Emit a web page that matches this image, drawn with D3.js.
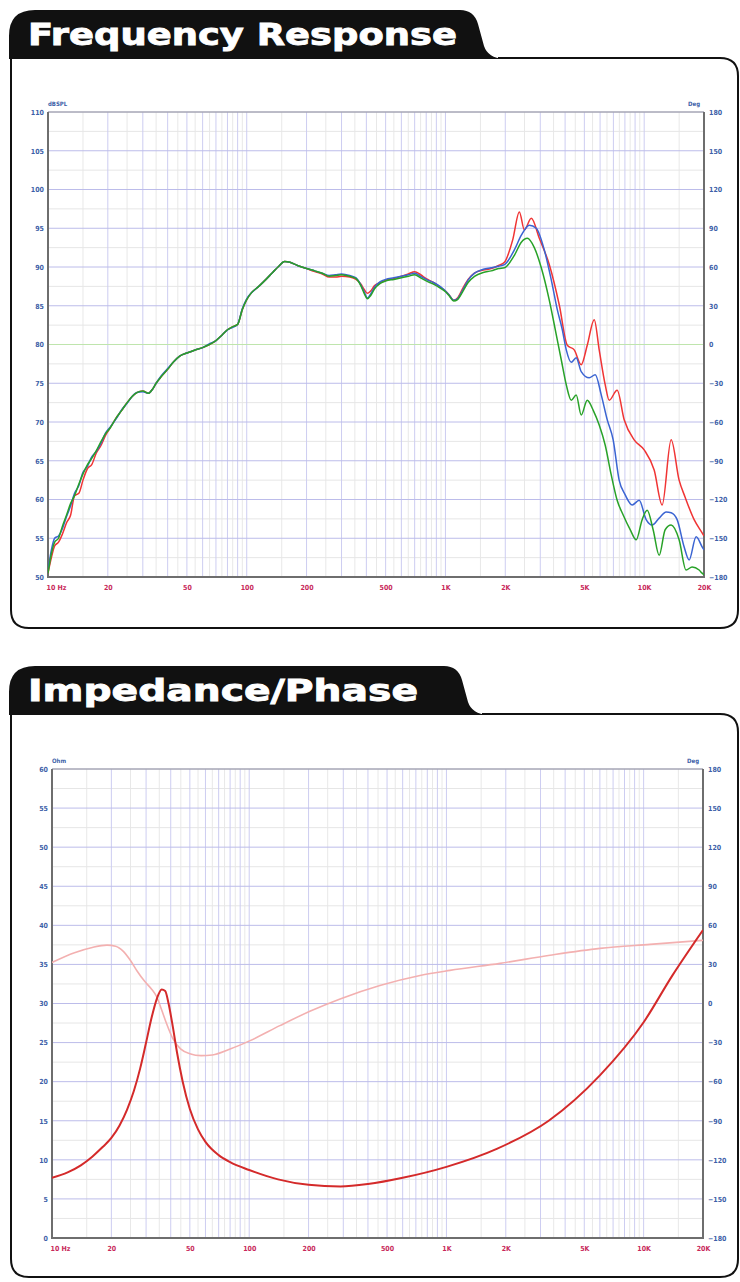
<!DOCTYPE html>
<html><head><meta charset="utf-8">
<script src="https://cdn.jsdelivr.net/npm/d3@7"></script>
<style>
html,body{margin:0;padding:0;background:#fff;}
svg{display:block;}
.ax text{font-family:"DejaVu Sans Condensed","DejaVu Sans",sans-serif;font-size:7px;font-weight:bold;}
</style></head><body>
<svg id="c" width="740" height="1282"></svg>
<script>
// ---------- DATA ----------
const freqTicks = [10,20,50,100,200,500,1000,2000,5000,10000,20000];
const freqLabels = ["10 Hz","20","50","100","200","500","1K","2K","5K","10K","20K"];
const gridMajor = [10,20,30,40,50,60,70,80,90,100,200,300,400,500,600,700,800,900,1000,2000,3000,4000,5000,6000,7000,8000,9000,10000,20000];
const gridMinor = [15,25,35,45,55,65,75,85,95,150,250,350,450,550,650,750,850,950,1500,2500,3500,4500,5500,6500,7500,8500,9500,15000];
const splTicks = [50,55,60,65,70,75,80,85,90,95,100,105,110];
const splMinor = [52.5,57.5,62.5,67.5,72.5,77.5,82.5,87.5,92.5,97.5,102.5,107.5];
const degTicks = [-180,-150,-120,-90,-60,-30,0,30,60,90,120,150,180];
const ohmTicks = [0,5,10,15,20,25,30,35,40,45,50,55,60];
const ohmMinor = [2.5,7.5,12.5,17.5,22.5,27.5,32.5,37.5,42.5,47.5,52.5,57.5];

const splGreen = [[10,50.5],[10.4,53],[10.8,54.5],[11.3,55],[11.8,56.5],[12.4,58],[13,59.5],[13.6,60.5],[14.3,62],[15,63.3],[15.8,64.5],[16.6,65.3],[17.5,66.3],[18.5,67.5],[19.5,68.5],[20.5,69.2],[22,70.5],[23.5,71.5],[25,72.5],[26.5,73.3],[28,73.8],[30,74],[32,73.7],[33.5,74.2],[35,75],[37,75.8],[40,76.8],[43,77.8],[46,78.5],[50,78.9],[55,79.3],[60,79.6],[65,80],[70,80.5],[75,81.2],[80,81.9],[85,82.3],[90,82.6],[95,84.5],[100,85.8],[105,86.6],[115,87.5],[125,88.4],[135,89.3],[145,90.1],[155,90.7],[165,90.6],[180,90.2],[200,89.8],[220,89.5],[240,89.2],[260,88.8],[280,88.9],[300,89],[330,88.8],[355,88.5],[375,87.6],[390,86.6],[405,85.9],[420,86.3],[440,87.2],[470,87.9],[500,88.2],[550,88.4],[600,88.6],[650,88.8],[700,89],[750,88.6],[800,88.2],[870,87.8],[950,87.2],[1000,86.8],[1050,86.2],[1100,85.6],[1150,85.8],[1220,86.8],[1300,88],[1400,88.8],[1550,89.3],[1700,89.5],[1850,89.8],[1980,89.9],[2222,91.5],[2409,93.2],[2582,93.7],[2800,92.5],[3036,89.9],[3332,85.7],[3571,81.9],[3828,78.0],[4055,74.8],[4296,72.8],[4550,73.5],[4821,70.9],[5170,72.8],[5541,71.5],[5939,69.6],[6368,67.0],[6823,63.2],[7311,59.9],[7841,58.0],[8504,56.1],[9116,54.8],[9770,57.4],[10352,58.6],[11095,56.1],[11897,52.8],[12753,56.1],[13670,56.7],[14990,54.8],[16250,50.9],[17420,51.3],[18900,50.9],[19565,50.5],[20000,50.3]];

const splBlue = [[10,50.8],[10.4,53.5],[10.8,55],[11.3,55.3],[11.8,56.2],[12.4,57.8],[13,59.2],[13.6,60.8],[14.3,61.8],[15,63.5],[15.8,64.3],[16.6,65.5],[17.5,66.2],[18.5,67.3],[19.5,68.6],[20.5,69.3],[22,70.4],[23.5,71.6],[25,72.4],[26.5,73.3],[28,73.8],[30,73.9],[32,73.7],[33.5,74.2],[35,75],[37,75.9],[40,76.9],[43,77.8],[46,78.5],[50,78.9],[55,79.3],[60,79.6],[65,80.1],[70,80.5],[75,81.2],[80,81.9],[85,82.2],[90,82.6],[95,84.6],[100,85.9],[105,86.6],[115,87.5],[125,88.4],[135,89.3],[145,90.1],[155,90.7],[165,90.6],[180,90.2],[200,89.8],[220,89.5],[240,89.2],[260,88.9],[280,89],[300,89.1],[330,88.9],[355,88.6],[375,87.7],[390,86.8],[405,86],[420,86.5],[440,87.4],[470,88.1],[500,88.4],[550,88.6],[600,88.8],[650,89],[700,89.2],[750,88.8],[800,88.4],[870,88],[950,87.4],[1000,86.9],[1050,86.3],[1100,85.7],[1150,85.9],[1220,87],[1300,88.3],[1400,89.2],[1550,89.7],[1700,89.9],[1850,90.1],[1980,90.3],[2222,92.2],[2409,94.1],[2642,95.4],[2865,95.0],[3144,92.2],[3410,88.3],[3654,84.5],[3873,81.9],[4055,79.3],[4296,77.7],[4550,78.3],[4821,76.5],[5291,75.7],[5672,76.1],[6081,73.5],[6516,70.3],[6982,67.7],[7482,62.5],[8026,60.6],[8703,59.3],[9438,59.9],[10233,57.4],[10970,56.7],[11897,57.6],[12900,58.4],[13670,58.3],[14650,57.4],[15880,53.9],[16830,52.2],[18255,55.2],[19565,53.9],[20000,53.5]];

const splRed = [[10,50.5],[10.4,52.5],[10.8,54],[11.3,54.5],[11.8,55.5],[12.4,57],[13,58],[13.6,60.5],[14.3,60.8],[15,62.5],[15.8,64],[16.6,64.5],[17.5,66],[18.5,67],[19.5,68.3],[20.5,69.2],[22,70.5],[23.5,71.5],[25,72.5],[26.5,73.3],[28,73.8],[30,74],[32,73.7],[33.5,74.2],[35,75],[37,75.8],[40,76.8],[43,77.8],[46,78.5],[50,78.9],[55,79.3],[60,79.6],[65,80],[70,80.5],[75,81.2],[80,81.9],[85,82.3],[90,82.6],[95,84.5],[100,85.8],[105,86.6],[115,87.5],[125,88.4],[135,89.3],[145,90.1],[155,90.7],[165,90.6],[180,90.2],[200,89.8],[220,89.4],[240,89.1],[260,88.7],[280,88.7],[300,88.8],[330,88.7],[355,88.4],[375,87.8],[390,87.1],[405,86.6],[420,86.9],[440,87.6],[470,88],[500,88.3],[550,88.5],[600,88.8],[650,89.1],[700,89.4],[750,89],[800,88.5],[870,88],[950,87.3],[1000,86.9],[1050,86.3],[1100,85.7],[1150,86],[1220,87.2],[1300,88.4],[1400,89.2],[1550,89.6],[1700,89.8],[1850,90.2],[1980,90.6],[2180,93.5],[2354,97.1],[2495,94.8],[2704,96.3],[2967,93.7],[3332,90.3],[3740,85.1],[4103,79.9],[4447,79.3],[4821,77.4],[5170,79.9],[5606,83.2],[5939,79.3],[6368,74.8],[6668,72.8],[7311,74.1],[7932,70.3],[8906,67.7],[10000,66.4],[11228,63.8],[12316,59.3],[13670,67.7],[14990,62.5],[16070,60.3],[17840,57.4],[19565,55.7],[20000,55.3]];

const impedance = [[10,7.7],[12,8.4],[14,9.3],[16,10.4],[18,11.6],[20,12.8],[22,14.4],[24,16.4],[26,18.8],[28,21.7],[30,25],[32,28.2],[34,30.6],[36,31.8],[37.5,31.6],[39,30],[41,27],[43,23.8],[46,20],[50,16.5],[55,13.9],[60,12.3],[70,10.6],[80,9.7],[100,8.7],[140,7.5],[200,6.8],[290,6.6],[400,6.9],[600,7.7],[1000,9.1],[1800,11.4],[3300,15],[6000,20.8],[10000,27.6],[14000,33.6],[20000,39.4]];

const phase = [[10,31.5],[13,39],[16,43],[19,44.8],[21,44],[23,40],[25,33],[27,25],[29.5,17],[32,11],[34,5],[36,-5],[38,-15],[41,-27],[45,-35],[50,-38.5],[57,-40],[65,-39.5],[80,-35],[101,-28.5],[143,-17],[203,-6],[289,3.5],[460,13.8],[735,21.5],[1042,25.4],[1870,30.8],[3350,37],[6010,42.3],[10770,45.4],[20000,48.5]];

// ---------- DRAW ----------
const svg = d3.select("#c");
const ink = "#111";

function panel(top, bottom, tabRight, title, titleLen, baseline) {
  const tb = top + 48; // tab bottom
  svg.append("path")
    .attr("d", `M11 ${tb} L11 ${bottom-18} Q11 ${bottom} 29 ${bottom} L720 ${bottom} Q738 ${bottom} 738 ${bottom-18} L738 ${tb+18} Q738 ${tb} 720 ${tb} L${tabRight+20} ${tb}`)
    .attr("fill","none").attr("stroke",ink).attr("stroke-width",2);
  svg.append("path")
    .attr("d", `M9 ${tb+1} L9 ${top+26} Q9 ${top} 35 ${top} L${tabRight-18} ${top} Q${tabRight-4} ${top} ${tabRight} ${top+14} L${tabRight+6} ${tb-12} Q${tabRight+10} ${tb} ${tabRight+26} ${tb+1} Z`)
    .attr("fill",ink);
  svg.append("text").attr("x",28).attr("y",baseline)
    .attr("textLength",titleLen).attr("lengthAdjust","spacingAndGlyphs")
    .style("font-family","'DejaVu Sans',sans-serif").style("font-weight","bold")
    .style("font-size","31px").attr("fill","#fff").attr("stroke","#fff").attr("stroke-width",0.9).text(title);
}

panel(10, 628, 478, "Frequency Response", 429, 45);
panel(666, 1277, 462, "Impedance/Phase", 390, 701);

function chart(o) {
  const g = svg.append("g");
  const x = d3.scaleLog().domain([10,20000]).range([o.x0,o.x1]);
  const y = d3.scaleLinear().domain(o.yDom).range([o.y1,o.y0]);
  const yr = d3.scaleLinear().domain([-180,180]).range([o.y1,o.y0]);
  g.append("rect").attr("x",o.x0).attr("y",o.y0).attr("width",o.x1-o.x0).attr("height",o.y1-o.y0).attr("fill","#fff");
  g.selectAll(".vmin").data(gridMinor).join("line").attr("x1",d=>x(d)).attr("x2",d=>x(d)).attr("y1",o.y0).attr("y2",o.y1).attr("stroke","#e8e8e8").attr("stroke-width",1);
  g.selectAll(".hmin").data(o.minor).join("line").attr("x1",o.x0).attr("x2",o.x1).attr("y1",d=>y(d)).attr("y2",d=>y(d)).attr("stroke","#e6e6e6").attr("stroke-width",1);
  g.selectAll(".vmaj").data(gridMajor).join("line").attr("x1",d=>x(d)).attr("x2",d=>x(d)).attr("y1",o.y0).attr("y2",o.y1).attr("stroke","#cdcdf1").attr("stroke-width",1);
  g.selectAll(".hmaj").data(o.ticks).join("line").attr("x1",o.x0).attr("x2",o.x1).attr("y1",d=>y(d)).attr("y2",d=>y(d)).attr("stroke",d=>d===o.greenAt?"#bfe5ad":"#bcbcea").attr("stroke-width",1);
  g.append("line").attr("x1",o.x0).attr("x2",o.x1).attr("y1",o.y0).attr("y2",o.y0).attr("stroke","#9a9a9a").attr("stroke-width",1);
  g.append("path").attr("d",`M${o.x0} ${o.y0} L${o.x0} ${o.y1} L${o.x1} ${o.y1} L${o.x1} ${o.y0}`).attr("fill","none").attr("stroke","#6e6e6e").attr("stroke-width",2);
  const ax = g.append("g").attr("class","ax").attr("transform",`translate(${o.x0},0)`)
    .call(d3.axisLeft(y).tickValues(o.ticks).tickSize(0).tickPadding(4).tickFormat(d3.format("d")));
  ax.select(".domain").remove(); ax.selectAll("text").attr("fill","#3d5fa8");
  const axr = g.append("g").attr("class","ax").attr("transform",`translate(${o.x1},0)`)
    .call(d3.axisRight(yr).tickValues(degTicks).tickSize(0).tickPadding(5).tickFormat(d3.format("d")));
  axr.select(".domain").remove(); axr.selectAll("text").attr("fill","#3d5fa8");
  const axb = g.append("g").attr("class","ax").attr("transform",`translate(0,${o.y1})`)
    .call(d3.axisBottom(x).tickValues(freqTicks).tickSize(0).tickPadding(8).tickFormat((d,i)=>freqLabels[i]));
  axb.select(".domain").remove(); axb.selectAll("text").attr("fill","#c8285a");
  axb.selectAll("text").filter((d,i)=>i===0).attr("text-anchor","start").attr("dx",-2);
  g.append("text").attr("x",o.x0).attr("y",o.y0-6).attr("fill","#3d5fa8").style("font-family","'DejaVu Sans Condensed',sans-serif").style("font-size","6px").style("font-weight","bold").text(o.unitL);
  g.append("text").attr("x",o.x1-4).attr("y",o.y0-6).attr("text-anchor","end").attr("fill","#3d5fa8").style("font-family","'DejaVu Sans Condensed',sans-serif").style("font-size","6px").style("font-weight","bold").text("Deg");
  const clipId = "clip"+o.id;
  g.append("clipPath").attr("id",clipId).append("rect").attr("x",o.x0).attr("y",o.y0).attr("width",o.x1-o.x0).attr("height",o.y1-o.y0);
  const plot = g.append("g").attr("clip-path",`url(#${clipId})`);
  return {x,y,yr,plot};
}

const fr = chart({id:1,x0:48,x1:704,y0:112,y1:577,yDom:[50,110],ticks:splTicks,minor:splMinor,greenAt:80,unitL:"dBSPL"});
const lineFR = d3.line().x(d=>fr.x(d[0])).y(d=>fr.y(d[1])).curve(d3.curveMonotoneX);
[[splRed,"#f03434"],[splBlue,"#3a64d2"],[splGreen,"#28a228"]].forEach(([data,col])=>{
  fr.plot.append("path").datum(data).attr("d",lineFR).attr("fill","none").attr("stroke",col).attr("stroke-width",1.5).attr("stroke-linejoin","round");
});

const im = chart({id:2,x0:52,x1:703,y0:769,y1:1238,yDom:[0,60],ticks:ohmTicks,minor:ohmMinor,greenAt:null,unitL:"Ohm"});
im.plot.append("path").datum(phase)
  .attr("d",d3.line().x(d=>im.x(d[0])).y(d=>im.yr(d[1])).curve(d3.curveMonotoneX))
  .attr("fill","none").attr("stroke","#f3b0b0").attr("stroke-width",1.6);
im.plot.append("path").datum(impedance)
  .attr("d",d3.line().x(d=>im.x(d[0])).y(d=>im.y(d[1])).curve(d3.curveMonotoneX))
  .attr("fill","none").attr("stroke","#d42a2a").attr("stroke-width",2);
</script>
</body></html>
